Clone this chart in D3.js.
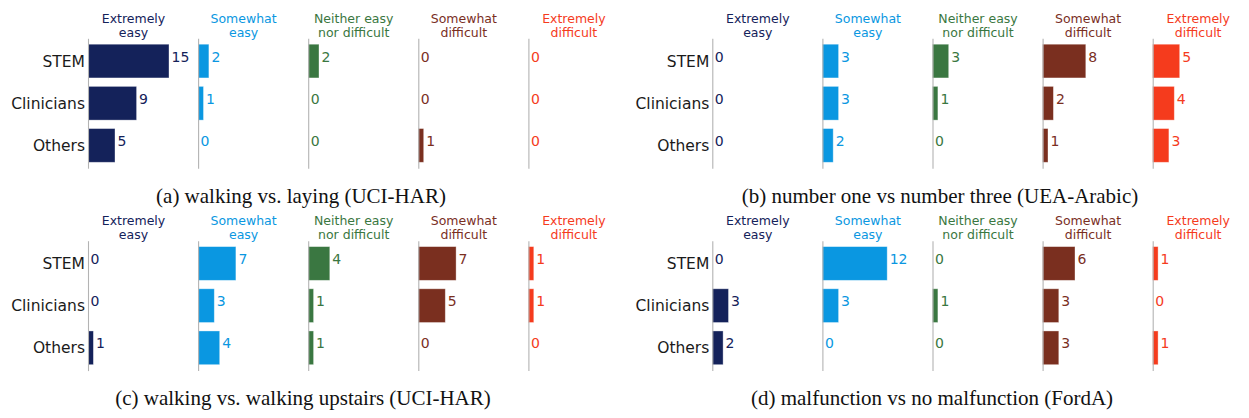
<!DOCTYPE html>
<html>
<head>
<meta charset="utf-8">
<script src="https://cdn.jsdelivr.net/npm/d3@7/dist/d3.min.js"></script>
<style>
  html, body { margin: 0; padding: 0; background: #fff; }
  svg { display: block; }
</style>
</head>
<body>
<svg id="chart" width="1249" height="418"></svg>
<script>
// Respondent groups (rows) and difficulty levels (columns)
const categories = ["STEM", "Clinicians", "Others"];
const levelTitles = [
  ["Extremely", "easy"],
  ["Somewhat", "easy"],
  ["Neither easy", "nor difficult"],
  ["Somewhat", "difficult"],
  ["Extremely", "difficult"]
];
const levelColors = ["#14225a", "#0a97e1", "#3a7741", "#7a2f1f", "#f53b1d"];

// Counts per level, ordered STEM, Clinicians, Others
const walkingLaying = [
  [15, 9, 5],
  [2, 1, 0],
  [2, 0, 0],
  [0, 0, 1],
  [0, 0, 0]
];
const oneVsThree = [
  [0, 0, 0],
  [3, 3, 2],
  [3, 1, 0],
  [8, 2, 1],
  [5, 4, 3]
];
const walkingUpstairs = [
  [0, 0, 1],
  [7, 3, 4],
  [4, 1, 1],
  [7, 5, 0],
  [1, 1, 0]
];
const malfunction = [
  [0, 3, 2],
  [12, 3, 0],
  [0, 1, 0],
  [6, 3, 3],
  [1, 0, 1]
];

const captions = [
  "(a) walking vs. laying (UCI-HAR)",
  "(b) number one vs number three (UEA-Arabic)",
  "(c) walking vs. walking upstairs (UCI-HAR)",
  "(d) malfunction vs no malfunction (FordA)"
];

const panels = [
  { values: walkingLaying,   caption: captions[0], x0: 88,    top: 0,     capX: 301 },
  { values: oneVsThree,      caption: captions[1], x0: 712.3, top: 0,     capX: 940 },
  { values: walkingUpstairs, caption: captions[2], x0: 88,    top: 202.4, capX: 303 },
  { values: malfunction,     caption: captions[3], x0: 712.3, top: 202.4, capX: 932 }
];

const colStep = 110.1;
const sans = "'DejaVu Sans', sans-serif";
const serif = "'Liberation Serif', 'Times New Roman', serif";

const svg = d3.select("#chart");

// shared count scale for every small column
const x = d3.scaleLinear().domain([0, 15]).range([0, 81]);

panels.forEach(p => {
  const g = svg.append("g").attr("transform", `translate(0,${p.top})`);

  const y = d3.scaleBand()
    .domain(categories)
    .range([38.3, 168.2])
    .paddingInner(0.2)
    .paddingOuter(0.14);

  p.values.forEach((vals, li) => {
    const cx = p.x0 + li * colStep;
    const col = g.append("g").attr("transform", `translate(${cx},0)`);
    const color = levelColors[li];

    // column heading
    const head = col.append("text")
      .attr("x", 45.5)
      .attr("text-anchor", "middle")
      .attr("font-family", sans)
      .attr("font-size", 12.5)
      .attr("fill", color);
    levelTitles[li].forEach((line, k) => {
      head.append("tspan").attr("x", 45.5).attr("y", 22.5 + k * 14).text(line);
    });

    // bars
    const rows = categories.map((c, i) => ({ cat: c, v: vals[i] }));
    col.selectAll("rect")
      .data(rows)
      .join("rect")
      .attr("x", 0)
      .attr("y", d => y(d.cat))
      .attr("width", d => x(d.v))
      .attr("height", y.bandwidth())
      .attr("fill", color)
      .attr("stroke", "#ffffff")
      .attr("stroke-opacity", 0.45)
      .attr("stroke-width", 0.8);

    // value labels
    col.selectAll("text.val")
      .data(rows)
      .join("text")
      .attr("class", "val")
      .attr("x", d => x(d.v) + 2.5)
      .attr("y", d => y(d.cat) + y.bandwidth() / 2 + 0.5)
      .attr("font-family", sans)
      .attr("font-size", 14)
      .attr("fill", color)
      .text(d => d.v);

    // left spine, with group names only on the first column
    const axis = d3.axisLeft(y).tickSize(0).tickPadding(3);
    if (li > 0) axis.tickFormat("");
    const ag = col.append("g").call(axis);
    ag.select(".domain").attr("stroke", "#b3b3b3").attr("stroke-width", 1.1);
    ag.selectAll("text")
      .attr("font-family", sans)
      .attr("font-size", 15.5)
      .attr("fill", "#1a1a1a")
      .attr("dy", "0.35em");
  });

  // subfigure caption
  g.append("text")
    .attr("x", p.capX)
    .attr("y", 203)
    .attr("text-anchor", "middle")
    .attr("font-family", serif)
    .attr("font-size", 21)
    .attr("fill", "#111")
    .text(p.caption);
});
</script>
</body>
</html>
